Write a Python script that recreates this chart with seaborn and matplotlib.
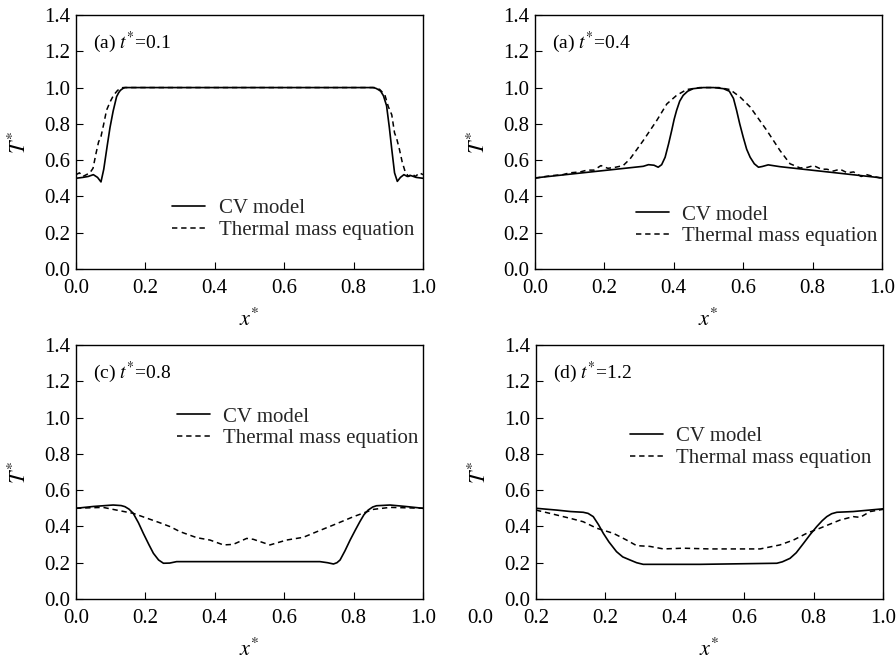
import matplotlib
matplotlib.use('Agg')
import matplotlib.pyplot as plt
import seaborn as sns
import pandas as pd

# (a) t*=0.1
a_cv_x = [0.0, 0.02, 0.035, 0.05, 0.062, 0.072, 0.08, 0.09, 0.098, 0.107, 0.117, 0.123, 0.128, 0.135, 0.141, 0.5,
          0.856, 0.864, 0.87, 0.878, 0.886, 0.895, 0.903, 0.91, 0.918, 0.926, 0.935, 0.945, 0.955, 0.965, 0.98, 1.0]
a_cv_y = [0.50, 0.505, 0.51, 0.52, 0.505, 0.48, 0.55, 0.68, 0.78, 0.87, 0.95, 0.972, 0.985, 0.995, 1.0, 1.0,
          1.0, 0.996, 0.99, 0.98, 0.955, 0.90, 0.78, 0.66, 0.53, 0.483, 0.505, 0.52, 0.51, 0.515, 0.505, 0.50]
a_tm_x = [0.0, 0.01, 0.02, 0.03, 0.04, 0.049, 0.058, 0.065, 0.072, 0.08, 0.088, 0.098, 0.108, 0.12, 0.135, 0.5,
          0.86, 0.875, 0.89, 0.9, 0.91, 0.918, 0.924, 0.932, 0.94, 0.948, 0.958, 0.968, 0.978, 0.99, 1.0]
a_tm_y = [0.52, 0.53, 0.51, 0.52, 0.53, 0.555, 0.64, 0.70, 0.73, 0.80, 0.875, 0.92, 0.957, 0.985, 1.0, 1.0,
          1.0, 0.99, 0.96, 0.895, 0.85, 0.75, 0.72, 0.66, 0.59, 0.54, 0.51, 0.525, 0.51, 0.53, 0.52]

# (b) t*=0.4
b_cv_x = [0.0, 0.312, 0.327, 0.343, 0.355, 0.365, 0.375, 0.385, 0.394, 0.401, 0.408, 0.417, 0.427, 0.44,
          0.456, 0.485, 0.5, 0.515, 0.543, 0.56, 0.572, 0.581, 0.59, 0.6, 0.61, 0.62, 0.632, 0.644,
          0.655, 0.672, 0.706, 1.0]
b_cv_y = [0.502, 0.566, 0.575, 0.572, 0.561, 0.575, 0.616, 0.69, 0.764, 0.825, 0.874, 0.925, 0.957, 0.98,
          0.994, 1.0, 1.0, 1.0, 0.994, 0.98, 0.94, 0.874, 0.80, 0.727, 0.66, 0.616, 0.58, 0.561,
          0.565, 0.574, 0.564, 0.502]
b_tm_x = [0.0, 0.03, 0.05, 0.08, 0.1, 0.13, 0.15, 0.17, 0.19, 0.21, 0.23, 0.254, 0.274, 0.312, 0.351, 0.38,
          0.408, 0.437, 0.475, 0.5, 0.53, 0.562, 0.591, 0.62, 0.668, 0.706, 0.735, 0.764, 0.785, 0.803,
          0.825, 0.841, 0.86, 0.879, 0.9, 0.918, 0.94, 0.956, 0.975, 1.0]
b_tm_y = [0.50, 0.51, 0.515, 0.52, 0.53, 0.535, 0.545, 0.545, 0.57, 0.555, 0.56, 0.57, 0.607, 0.708, 0.819, 0.91,
          0.957, 0.989, 1.0, 1.0, 1.0, 0.989, 0.948, 0.893, 0.764, 0.653, 0.58, 0.557, 0.56, 0.57,
          0.55, 0.55, 0.54, 0.55, 0.53, 0.535, 0.51, 0.52, 0.51, 0.50]

# (c) t*=0.8
c_cv_x = [0.0, 0.05, 0.107, 0.13, 0.141, 0.153, 0.165, 0.18, 0.194, 0.21, 0.223, 0.238, 0.252, 0.27, 0.29,
          0.473, 0.703, 0.725, 0.742, 0.752, 0.761, 0.775, 0.79, 0.805, 0.818, 0.83, 0.842, 0.855, 0.866,
          0.905, 0.95, 1.0]
c_cv_y = [0.50, 0.51, 0.518, 0.515, 0.509, 0.495, 0.472, 0.42, 0.362, 0.30, 0.252, 0.215, 0.197, 0.198, 0.206,
          0.206, 0.206, 0.20, 0.193, 0.20, 0.215, 0.265, 0.325, 0.38, 0.426, 0.465, 0.49, 0.507, 0.514,
          0.518, 0.51, 0.50]
c_tm_x = [0.0, 0.078, 0.117, 0.165, 0.242, 0.271, 0.3, 0.348, 0.386, 0.425, 0.453, 0.492, 0.511, 0.559,
          0.607, 0.655, 0.694, 0.742, 0.8, 0.857, 0.905, 1.0]
c_tm_y = [0.50, 0.505, 0.49, 0.472, 0.42, 0.399, 0.371, 0.338, 0.325, 0.298, 0.301, 0.334, 0.329, 0.298,
          0.325, 0.34, 0.371, 0.408, 0.454, 0.494, 0.505, 0.50]

# (d) t*=1.2
d_cv_x = [0.0, 0.06, 0.1, 0.136, 0.15, 0.165, 0.18, 0.194, 0.21, 0.232, 0.25, 0.271, 0.29, 0.309, 0.473,
          0.694, 0.71, 0.732, 0.75, 0.771, 0.79, 0.809, 0.825, 0.838, 0.852, 0.867, 0.914, 1.0]
d_cv_y = [0.50, 0.49, 0.482, 0.478, 0.472, 0.454, 0.41, 0.362, 0.315, 0.261, 0.232, 0.215, 0.20, 0.191, 0.191,
          0.197, 0.205, 0.224, 0.255, 0.307, 0.355, 0.399, 0.432, 0.454, 0.47, 0.478, 0.482, 0.497]
d_tm_x = [0.0, 0.04, 0.098, 0.136, 0.175, 0.223, 0.261, 0.29, 0.328, 0.367, 0.424, 0.5, 0.646, 0.703,
          0.742, 0.78, 0.818, 0.876, 0.914, 0.934, 0.963, 1.0]
d_tm_y = [0.49, 0.472, 0.445, 0.426, 0.39, 0.362, 0.325, 0.294, 0.29, 0.276, 0.28, 0.276, 0.276, 0.298,
          0.325, 0.362, 0.39, 0.435, 0.454, 0.45, 0.482, 0.494]

panel_titles = ['(a) $t^{*}$=0.1', '(a) $t^{*}$=0.4', '(c) $t^{*}$=0.8', '(d) $t^{*}$=1.2']
x_ticks = [0.0, 0.2, 0.4, 0.6, 0.8, 1.0]
x_ticklabels = ['0.0', '0.2', '0.4', '0.6', '0.8', '1.0']
x_ticklabels_d = ['0.2', '0.2', '0.4', '0.6', '0.8', '1.0']
y_ticks = [0.0, 0.2, 0.4, 0.6, 0.8, 1.0, 1.2, 1.4]
series_names = ['CV model', 'Thermal mass equation']

sns.set_theme(style='ticks')
plt.rcParams['font.family'] = ['Liberation Serif', 'DejaVu Serif']
plt.rcParams['mathtext.fontset'] = 'stix'

W, H = 896, 660
fig = plt.figure(figsize=(W / 100, H / 100), dpi=100)

# pixel boxes (left, top) of each panel, and legend anchors in axes fraction
boxes = [(76, 15), (535, 15), (76, 345), (536, 345)]
legend_anchor = [(0.277, 0.196), (0.29, 0.17), (0.29, 0.675), (0.27, 0.597)]
data = [(a_cv_x, a_cv_y, a_tm_x, a_tm_y), (b_cv_x, b_cv_y, b_tm_x, b_tm_y),
        (c_cv_x, c_cv_y, c_tm_x, c_tm_y), (d_cv_x, d_cv_y, d_tm_x, d_tm_y)]

for i, ((left, top), (cx, cy, tx, ty)) in enumerate(zip(boxes, data)):
    ax = fig.add_axes([left / W, 1 - (top + 254) / H, 347 / W, 254 / H])
    cv = pd.DataFrame({'x': cx, 'T': cy})
    tm = pd.DataFrame({'x': tx, 'T': ty})
    sns.lineplot(data=cv, x='x', y='T', ax=ax, color='black', lw=1.2,
                 estimator=None, sort=False, label=series_names[0])
    sns.lineplot(data=tm, x='x', y='T', ax=ax, color='black', lw=1.1,
                 estimator=None, sort=False, label=series_names[1])
    ax.lines[1].set_dashes((3.5, 2.5))

    ax.set_xlim(0, 1)
    ax.set_ylim(0, 1.4)
    ax.set_xticks(x_ticks)
    ax.set_xticklabels(x_ticklabels_d if i == 3 else x_ticklabels)
    ax.set_yticks(y_ticks)
    ax.set_yticklabels([f'{v:.1f}' for v in y_ticks])
    ax.tick_params(labelsize=15, length=5, width=0.8, direction='in',
                   color='black', labelcolor='black')
    ax.tick_params(axis='x', pad=7)
    ax.tick_params(axis='y', pad=4)
    for s in ax.spines.values():
        s.set_color('black')
        s.set_linewidth(1.0)

    ax.set_xlabel('$x^{*}$', fontsize=16, color='black', labelpad=8)
    ax.set_ylabel('$T^{*}$', fontsize=16, color='black', labelpad=10)
    ax.text(0.05, 0.893, panel_titles[i], transform=ax.transAxes, fontsize=14,
            va='center', ha='left', color='black')

    leg = ax.legend(loc='center left', bbox_to_anchor=legend_anchor[i], frameon=False,
                    fontsize=15, handlelength=1.6, handletextpad=0.63, labelspacing=0.1,
                    borderaxespad=0, borderpad=0)
    leg.get_lines()[1].set_dashes((3.5, 2.5))

    if i == 3:
        # stray tick label left of the axis in the original figure
        ax.annotate('0.0', xy=(0, 0), xycoords='axes fraction', xytext=(-40, -7),
                    textcoords='offset points', ha='center', va='top', fontsize=15,
                    color='black')

fig.savefig('out.png', dpi=100)
